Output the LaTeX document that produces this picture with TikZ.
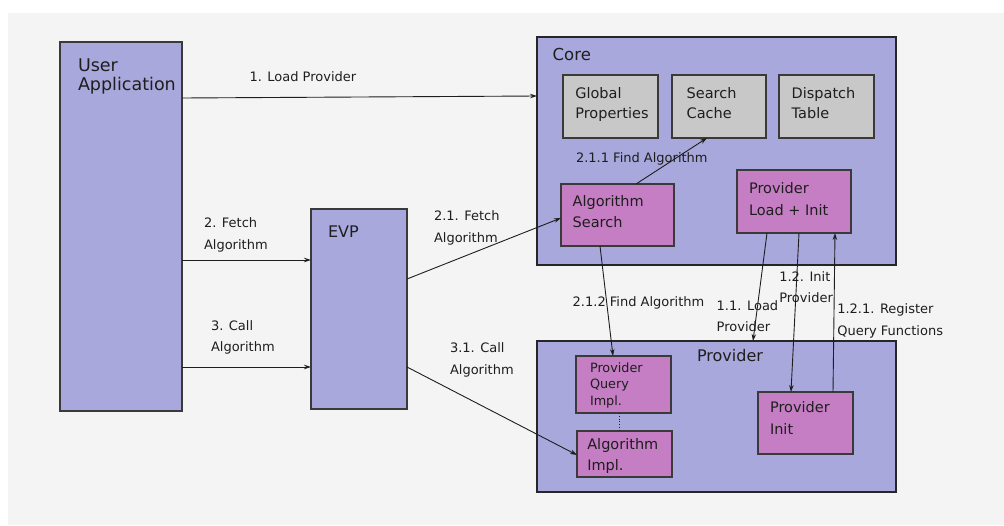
\documentclass[tikz,border=0pt]{standalone}
\usepackage{fontspec}
\setmainfont{DejaVu Sans}
\usetikzlibrary{arrows.meta}

\definecolor{paper}{HTML}{F4F4F4}
\definecolor{lav}{HTML}{A8A8DC}
\definecolor{mag}{HTML}{C57DC3}
\definecolor{gry}{HTML}{C8C8C8}
\definecolor{rim}{HTML}{3A3A3A}
\definecolor{rimdark}{HTML}{262626}
\definecolor{ink}{HTML}{1E1E1E}

% left-aligned block of lines whose baseline is the first line
\newcommand{\txtrows}[1]{\begin{tabular}[t]{@{}l@{}}#1\end{tabular}}

\tikzset{
  box/.style={draw=rim, line width=1.3pt, anchor=north west, inner sep=0pt, outer sep=0pt},
  lavbox/.style={box, fill=lav},
  magbox/.style={box, fill=mag},
  grybox/.style={box, fill=gry},
  framebox/.style={box, fill=lav, draw=rimdark, line width=1.8pt},
  txt/.style={anchor=base west, inner sep=0pt, outer sep=0pt, text=ink},
  bigtxt/.style={txt, font=\fontsize{16.5}{19}\selectfont},
  boxtxt/.style={txt, font=\fontsize{14.5}{21}\selectfont},
  smalltxt/.style={txt, font=\fontsize{12.8}{16.5}\selectfont},
  edgetxt/.style={txt, font=\fontsize{13}{21.7}\selectfont},
  link/.style={draw=ink, line width=0.9pt, -{Stealth[length=7pt,width=4.5pt]}},
}

\begin{document}
\begin{tikzpicture}[x=1pt, y=-1pt]
  \useasboundingbox (0,0) rectangle (1004,525);
  \fill[paper] (8,13) rectangle (1004,525);

  % main components
  \node[lavbox, minimum width=122pt, minimum height=369pt] (ua) at (60,42) {};
  \node[lavbox, minimum width=96pt, minimum height=200pt] (evp) at (311,209) {};
  \node[framebox, minimum width=359pt, minimum height=228pt] (core) at (537,37) {};
  \node[framebox, minimum width=359pt, minimum height=151pt] (prov) at (537,341) {};

  % parts of the core
  \node[grybox, minimum width=95pt, minimum height=63pt] (gp) at (563,75) {};
  \node[grybox, minimum width=94pt, minimum height=63pt] (sc) at (672,75) {};
  \node[grybox, minimum width=95pt, minimum height=63pt] (dt) at (779,75) {};
  \node[magbox, minimum width=113pt, minimum height=62pt] (as) at (561,184) {};
  \node[magbox, minimum width=114pt, minimum height=63pt] (pli) at (737,170) {};

  % parts of the provider
  \node[magbox, minimum width=95pt, minimum height=57pt] (pq) at (576,356) {};
  \node[magbox, minimum width=95pt, minimum height=46pt] (ai) at (577,431) {};
  \node[magbox, minimum width=95pt, minimum height=62pt] (pi) at (758,392) {};

  % titles
  \node[txt, font=\fontsize{17.5}{19}\selectfont] (uaT) at (78,71) {\txtrows{User\\Application}};
  \node[bigtxt, font=\fontsize{16}{19}\selectfont] (evpT) at (328,237.7) {EVP};
  \node[bigtxt] (coreT) at (552.7,60) {Core};
  \node[bigtxt, font=\fontsize{16}{19}\selectfont, anchor=base] (provT) at (730,361) {Provider};

  \node[boxtxt, font=\fontsize{14.5}{20}\selectfont] (gpT) at (575.3,98.3) {\txtrows{Global\\Properties}};
  \node[boxtxt, font=\fontsize{14.5}{20}\selectfont] (scT) at (686.7,98.3) {\txtrows{Search\\Cache}};
  \node[boxtxt, font=\fontsize{14.5}{20}\selectfont] (dtT) at (791.7,98.3) {\txtrows{Dispatch\\Table}};
  \node[boxtxt] (asT) at (572.7,206) {\txtrows{Algorithm\\Search}};
  \node[boxtxt, font=\fontsize{14.5}{21.7}\selectfont] (pliT) at (749,193.3) {\txtrows{Provider\\Load + Init}};
  \node[smalltxt] (pqT) at (590,372.3) {\txtrows{Provider\\Query\\Impl.}};
  \node[boxtxt] (aiT) at (587.3,449.3) {\txtrows{Algorithm\\Impl.}};
  \node[boxtxt, font=\fontsize{14.5}{21.7}\selectfont] (piT) at (770,412.3) {\txtrows{Provider\\Init}};

  % calls between components
  \draw[link] (ua.east |- 0,98) -- (core.west |- 0,96);
  \draw[link] (ua.east |- 0,260) -- (evp.west |- 0,260);
  \draw[link] (ua.east |- 0,367) -- (evp.west |- 0,367);
  \draw[link] (evp.east |- 0,279) -- (as.west |- 0,218);
  \draw[link] (evp.east |- 0,367) -- (ai.west |- 0,455);
  \draw[link] (as.north -| 636,0) -- (sc.south -| 707,0);
  \draw[link] (as.south -| 600,0) -- (pq.north -| 613,0);
  \draw[link] (pli.south -| 767,0) -- (prov.north -| 753,0);
  \draw[link] (pli.south -| 799,0) -- (pi.north -| 791,0);
  \draw[link] (pi.north -| 833,0) -- (pli.south -| 835,0);
  \draw[ink, line width=0.8pt, dotted] (pq.south -| 619,0) -- (ai.north -| 619,0);

  % call labels
  \node[edgetxt] (l1) at (249.5,81.7) {1. Load Provider};
  \node[edgetxt] (l2) at (204,227.3) {\txtrows{2. Fetch\\Algorithm}};
  \node[edgetxt] (l3) at (211,330) {\txtrows{3. Call\\Algorithm}};
  \node[edgetxt] (l21) at (434,220.7) {\txtrows{2.1. Fetch\\Algorithm}};
  \node[edgetxt] (l31) at (450,352.3) {\txtrows{3.1. Call\\Algorithm}};
  \node[edgetxt] (l211) at (576,162.7) {2.1.1 Find Algorithm};
  \node[edgetxt] (l212) at (572.7,306) {2.1.2 Find Algorithm};
  \node[edgetxt] (l11) at (716.7,310) {\txtrows{1.1. Load\\Provider}};
  \node[edgetxt] (l12) at (779.3,281) {\txtrows{1.2. Init\\Provider}};
  \node[edgetxt] (l121) at (837.3,313.3) {\txtrows{1.2.1. Register\\Query Functions}};
\end{tikzpicture}
\end{document}
